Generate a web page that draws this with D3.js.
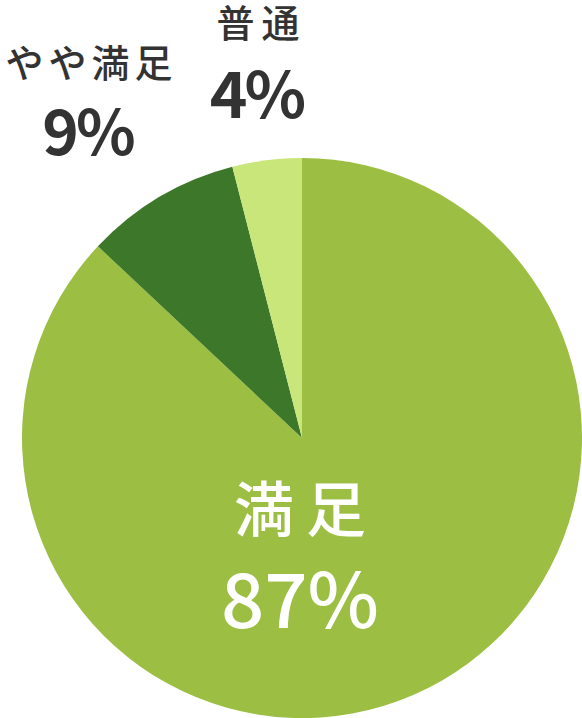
<!DOCTYPE html>
<html><head><meta charset="utf-8">
<script src="https://cdn.jsdelivr.net/npm/d3@7"></script>
<style>html,body{margin:0;padding:0;background:#fff;}svg{display:block;}</style>
</head><body>
<svg id="c" width="582" height="718"></svg>
<script>
const categories = ["満足", "やや満足", "普通"];
const values = [87, 9, 4];
const labels = ["87%", "9%", "4%"];
const colors = ["#9cbe43", "#3d7729", "#c9e67b"];

const svg = d3.select("#c");
const cx = 302, cy = 438, r = 280;
const pie = d3.pie().sort(null).value(d => d.v);
const data = categories.map((c, i) => ({c, v: values[i], l: labels[i], col: colors[i]}));
const arcs = pie(data);
const arc = d3.arc().innerRadius(0).outerRadius(r);
const g = svg.append("g").attr("transform", `translate(${cx},${cy})`);
g.selectAll("path").data(arcs).enter().append("path")
  .attr("d", arc).attr("fill", d => d.data.col);

const font = "'Noto Sans CJK JP', 'Noto Sans', sans-serif";
const place = [
  {x: 300, ny: 532, py: 628, ns: 60, ps: 76, fill: "#ffffff", nsp: 12, psp: 0, nw: 500, pw: 500},
  {x: 89, ny: 77, py: 155, ns: 38, ps: 62, fill: "#333333", nsp: 5, psp: -3, nw: 500, pw: 600},
  {x: 258, ny: 37, py: 118, ns: 38, ps: 64, fill: "#333333", nsp: 7, psp: -3, nw: 500, pw: 600}
];
data.forEach((d, i) => {
  const p = place[i];
  svg.append("text").attr("x", p.x + p.nsp / 2).attr("y", p.ny).attr("text-anchor", "middle")
    .attr("font-family", font).attr("font-size", p.ns).attr("font-weight", p.nw)
    .attr("letter-spacing", p.nsp).attr("fill", p.fill).text(d.c);
  svg.append("text").attr("x", p.x + p.psp / 2).attr("y", p.py).attr("text-anchor", "middle")
    .attr("font-family", font).attr("font-size", p.ps).attr("font-weight", p.pw)
    .attr("letter-spacing", p.psp).attr("fill", p.fill).text(d.l);
});
</script>
</body></html>
